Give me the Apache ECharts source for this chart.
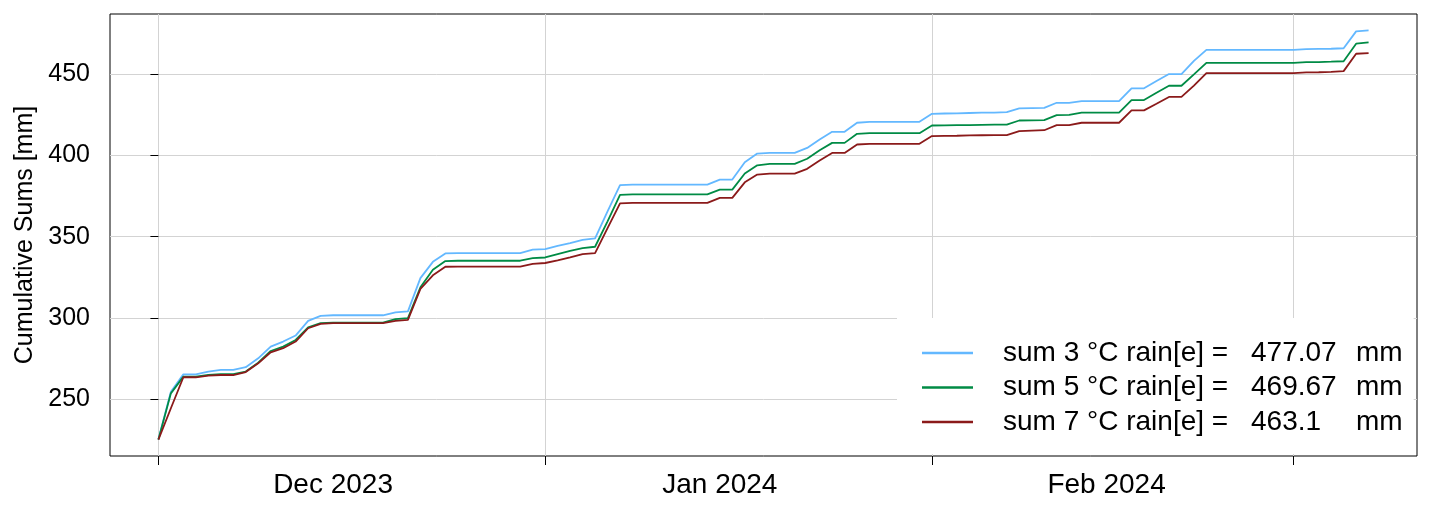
<!DOCTYPE html>
<html>
<head>
<meta charset="utf-8">
<script src="https://cdn.jsdelivr.net/npm/echarts@6/dist/echarts.min.js"></script>
<style>
  html, body { margin: 0; padding: 0; background: #fff; }
  #chart { width: 1431px; height: 508px; }
</style>
</head>
<body>
<div id="chart"></div>
<script>
// daily cumulative sums, 1 Dec 2023 .. 7 Mar 2024 (x = days since 1 Dec 2023)
const startDay = Date.UTC(2023, 11, 1)
const DAY = 86400000

const sum3 = [
  225.1, 254.5, 265.2, 265.2, 266.9, 267.9, 267.9, 269.6, 275.1, 282.3,
  285.4, 289.1, 298.1, 301.2, 301.6, 301.6, 301.6, 301.6, 301.6, 303.4,
  304.0, 324.5, 334.5, 339.7, 339.9, 339.9, 339.9, 339.9, 339.9, 339.9,
  342.0, 342.4, 344.4, 346.1, 348.1, 349.0, 365.6, 381.8, 382.1, 382.1,
  382.1, 382.1, 382.1, 382.1, 382.1, 385.2, 385.2, 395.9, 401.2, 401.6,
  401.6, 401.6, 404.7, 409.9, 414.6, 414.6, 420.2, 420.8, 420.8, 420.8,
  420.8, 420.8, 425.7, 425.9, 426.0, 426.2, 426.4, 426.5, 426.7, 429.0,
  429.2, 429.4, 432.5, 432.5, 433.5, 433.5, 433.5, 433.5, 441.4, 441.4,
  445.9, 450.2, 450.2, 458.3, 465.1, 465.1, 465.1, 465.1, 465.1, 465.1,
  465.1, 465.1, 465.6, 465.7, 465.8, 466.1, 476.5, 477.07
]
const sum5 = [
  225.1, 253.5, 263.8, 263.8, 264.8, 265.4, 265.4, 266.9, 272.4, 279.6,
  282.3, 286.4, 294.2, 296.7, 297.1, 297.1, 297.1, 297.1, 297.1, 299.2,
  299.8, 318.8, 329.6, 335.0, 335.2, 335.2, 335.2, 335.2, 335.2, 335.2,
  336.8, 337.2, 339.3, 341.3, 343.0, 343.8, 359.5, 375.8, 376.1, 376.1,
  376.1, 376.1, 376.1, 376.1, 376.1, 379.0, 379.0, 388.9, 394.0, 394.9,
  394.9, 394.9, 398.0, 403.3, 407.8, 407.8, 413.4, 413.8, 413.8, 413.8,
  413.8, 413.8, 418.5, 418.6, 418.7, 418.8, 418.9, 419.0, 419.1, 421.6,
  421.7, 421.8, 424.9, 425.0, 426.4, 426.4, 426.4, 426.4, 434.2, 434.2,
  438.7, 443.0, 443.0, 450.0, 457.1, 457.1, 457.1, 457.1, 457.1, 457.1,
  457.1, 457.1, 457.5, 457.6, 457.8, 458.1, 468.9, 469.67
]
const sum7 = [
  225.0, 244.3, 263.4, 263.4, 264.4, 264.8, 264.8, 266.6, 272.0, 278.8,
  281.3, 285.4, 293.6, 296.3, 296.7, 296.7, 296.7, 296.7, 296.7, 298.2,
  298.8, 317.8, 326.2, 331.5, 331.6, 331.6, 331.6, 331.6, 331.6, 331.6,
  333.3, 333.8, 335.4, 337.2, 339.3, 339.9, 355.3, 370.5, 370.8, 370.8,
  370.8, 370.8, 370.8, 370.8, 370.8, 373.9, 373.9, 383.5, 388.3, 388.9,
  388.9, 388.9, 391.8, 396.9, 401.6, 401.6, 406.8, 407.2, 407.2, 407.2,
  407.2, 407.2, 412.0, 412.1, 412.2, 412.4, 412.5, 412.6, 412.6, 415.0,
  415.3, 415.6, 418.7, 418.7, 420.2, 420.2, 420.2, 420.2, 427.8, 427.8,
  431.9, 436.1, 436.1, 443.1, 450.8, 450.8, 450.8, 450.8, 450.8, 450.8,
  450.8, 450.8, 451.2, 451.3, 451.5, 452.0, 462.7, 463.1
]

const days = sum3.map((v, i) => i)

const seriesNames = ['sum 3 °C rain[e] =', 'sum 5 °C rain[e] =', 'sum 7 °C rain[e] =']
const totals = ['477.07', '469.67', '463.1']
const colors = ['#63B8FF', '#008B45', '#8B1A1A']

// month starts (1 Dec, 1 Jan, 1 Feb, 1 Mar) and mid-month label spots, in days
const monthTicks = [0, 31, 62, 91]
const monthLabelAt = [14, 45, 76]
const monthNames = ['Jan', 'Feb', 'Mar', 'Apr', 'May', 'Jun', 'Jul', 'Aug', 'Sep', 'Oct', 'Nov', 'Dec']
const yTicks = [250, 300, 350, 400, 450]

const FONT = 'Liberation Sans, Arial, Helvetica, sans-serif'

const toPairs = (arr) => arr.map((v, i) => [days[i], v])

const chart = echarts.init(document.getElementById('chart'), null, { renderer: 'canvas' })

const option = {
  animation: false,
  backgroundColor: '#fff',
  grid: {
    left: 110, right: 14, top: 14, bottom: 52,
    show: true, borderColor: '#000', borderWidth: 1,
    containLabel: false, outerBoundsMode: 'none'
  },
  xAxis: {
    type: 'value',
    min: -3.88,
    max: 100.88,
    axisLine: { show: false },
    axisTick: { show: true, inside: false, length: 9, customValues: monthTicks, lineStyle: { color: '#000', width: 1 } },
    axisLabel: {
      customValues: monthLabelAt,
      margin: 15,
      color: '#000',
      fontSize: 28,
      fontFamily: FONT,
      formatter: (val) => {
        const d = new Date(startDay + val * DAY)
        return monthNames[d.getUTCMonth()] + ' ' + d.getUTCFullYear()
      }
    },
    splitLine: { show: true, lineStyle: { color: '#d3d3d3', width: 1 } }
  },
  yAxis: {
    type: 'value',
    min: 214.9,
    max: 487.2,
    name: 'Cumulative Sums [mm]',
    nameLocation: 'middle',
    nameGap: 71,
    nameTextStyle: { color: '#000', fontSize: 25, fontFamily: FONT },
    axisLine: { show: false },
    axisTick: { show: true, inside: false, length: 8, customValues: yTicks, lineStyle: { color: '#000', width: 1 } },
    axisLabel: { customValues: yTicks, margin: 20, color: '#000', fontSize: 25, fontFamily: FONT },
    splitLine: { show: true, lineStyle: { color: '#d3d3d3', width: 1 } }
  },
  legend: {
    orient: 'vertical',
    left: 897,
    top: 318,
    padding: [21, 11, 18, 25],
    backgroundColor: '#fff',
    itemGap: 6.5,
    itemWidth: 51,
    itemHeight: 2.5,
    icon: 'rect',
    data: seriesNames,
    formatter: (name) => {
      const i = seriesNames.indexOf(name)
      return '{a|' + name + '}{b|' + totals[i] + '}{c|mm}'
    },
    textStyle: {
      color: '#000',
      fontSize: 28,
      fontFamily: FONT,
      lineHeight: 28,
      rich: {
        a: { fontSize: 28, fontFamily: FONT, color: '#000', width: 248, padding: [0, 0, 0, 25], lineHeight: 28 },
        b: { fontSize: 28, fontFamily: FONT, color: '#000', width: 105, lineHeight: 28 },
        c: { fontSize: 28, fontFamily: FONT, color: '#000', lineHeight: 28 }
      }
    }
  },
  series: [sum3, sum5, sum7].map((arr, i) => ({
    name: seriesNames[i],
    type: 'line',
    data: toPairs(arr),
    showSymbol: false,
    symbol: 'none',
    color: colors[i],
    lineStyle: { color: colors[i], width: 1.8 }
  }))
}

chart.setOption(option)
</script>
</body>
</html>
